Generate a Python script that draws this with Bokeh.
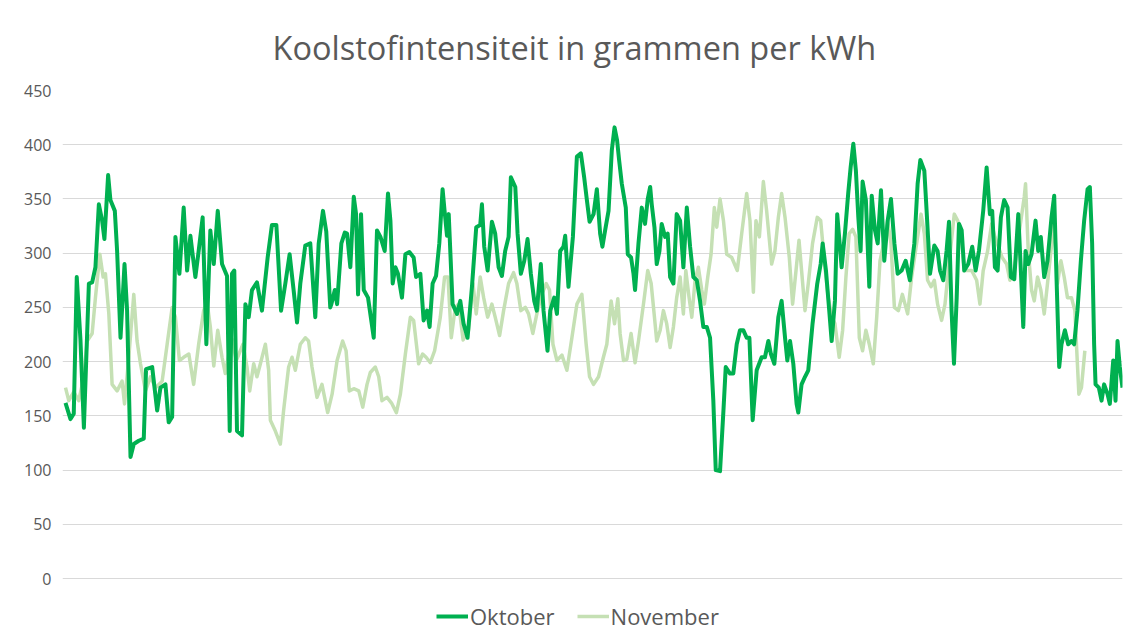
from bokeh.plotting import figure
from bokeh.models import Range1d, Legend, LegendItem
from bokeh.embed import file_html
from bokeh.resources import INLINE

# Uur van de maand (x) en koolstofintensiteit in g/kWh (y)
okt_uur = [2.1, 5.6, 7.9, 10.0, 12.6, 15.0, 18.5, 20.8, 23.1, 25.5, 27.8, 29.4, 32.0, 33.6, 36.7, 38.3,
           40.7, 43.5, 45.3, 47.7, 50.0, 53.5, 57.0, 58.6, 62.9, 66.4, 68.7, 72.2, 74.5, 76.9, 79.2, 82.0,
           85.0, 87.4, 89.7, 93.2, 95.5, 98.3, 100.9, 103.7, 106.1, 108.9, 111.9, 115.4, 117.3, 118.9,
           120.5, 122.4, 125.9, 128.3, 130.6, 132.9, 136.4, 139.9, 143.9, 146.9, 150.0, 153.3, 156.3,
           159.3, 162.1, 164.5, 166.8, 170.3, 173.8, 177.3, 179.7, 182.7, 185.0, 187.8, 188.6, 191.0,
           192.6, 195.6, 198.0, 199.6, 201.9, 204.3, 205.9, 207.3, 209.4, 211.3, 214.3, 218.3, 220.6,
           223.0, 226.0, 228.3, 230.0, 231.6, 233.5, 235.3, 238.1, 240.5, 243.3, 246.3, 248.0, 251.0,
           253.3, 255.7, 257.5, 259.6, 262.0, 264.3, 266.6, 268.0, 269.7, 270.9, 273.6, 276.7, 279.0,
           281.3, 284.1, 287.2, 290.2, 293.0, 294.2, 295.8, 298.2, 301.2, 303.5, 305.9, 308.2, 310.5,
           312.9, 314.5, 317.6, 319.2, 321.5, 323.9, 326.2, 328.5, 330.9, 332.7, 335.5, 337.4, 340.2,
           342.1, 344.9, 346.8, 349.1, 351.4, 352.6, 354.9, 358.0, 360.8, 363.6, 365.9, 367.8, 369.7,
           372.5, 374.8, 377.1, 378.7, 380.6, 383.0, 385.3, 387.2, 389.0, 390.4, 392.3, 395.1, 396.5,
           398.8, 400.5, 401.6, 404.0, 406.3, 408.6, 410.5, 412.2, 413.3, 415.2, 416.8, 418.7, 420.3,
           422.7, 424.5, 426.2, 428.5, 430.8, 433.2, 435.5, 437.9, 440.2, 442.5, 444.9, 447.2, 449.5,
           451.9, 454.2, 456.5, 458.2, 461.2, 463.6, 465.2, 468.2, 470.5, 472.9, 475.2, 477.5, 479.9,
           481.8, 484.1, 486.9, 490.4, 492.7, 495.1, 496.9, 499.3, 502.1, 504.4, 506.8, 508.4, 510.3,
           512.6, 514.9, 516.1, 518.4, 520.8, 523.1, 526.1, 529.4, 531.8, 533.2, 535.5, 537.8, 539.5,
           541.8, 543.4, 546.5, 548.8, 551.1, 552.8, 554.7, 556.5, 558.2, 559.8, 561.2, 563.5, 565.9,
           567.6, 569.9, 571.8, 574.1, 576.4, 578.8, 581.1, 583.5, 585.8, 588.6, 591.4, 594.4, 597.5,
           599.8, 601.7, 604.5, 606.1, 608.5, 611.5, 613.8, 615.5, 617.8, 620.1, 621.8, 623.6, 625.3,
           627.2, 628.8, 630.7, 632.5, 635.3, 638.1, 640.5, 642.8, 645.8, 648.2, 650.5, 652.1, 654.0,
           655.9, 658.2, 660.5, 662.9, 665.2, 667.6, 670.4, 672.2, 673.9, 675.5, 677.4, 679.7, 682.5,
           684.4, 686.2, 688.6, 690.9, 693.7, 695.6, 697.2, 699.1, 700.7, 703.1, 705.4, 707.7, 709.6,
           711.9, 714.3, 716.6, 719.0, 720.6, 722.2, 723.6, 724.6, 726.9, 728.8, 730.6, 733.0, 734.6,
           737.0, 738.6, 740.0, 741.6, 743.5]
okt_waarde = [162, 147, 152, 278, 220, 139, 272, 273, 287, 345, 330, 313, 372, 349, 339, 302,
              222, 290, 247, 112, 124, 127, 129, 193, 195, 155, 176, 179, 144, 149, 315, 281,
              342, 284, 316, 278, 302, 333, 216, 321, 290, 339, 290, 279, 136, 281,
              284, 136, 132, 253, 241, 266, 273, 247, 296, 326, 326, 247, 272,
              299, 266, 236, 272, 307, 309, 241, 309, 339, 320, 250, 253, 266,
              253, 309, 319, 318, 287, 352, 336, 262, 336, 266, 259, 222, 321,
              315, 302, 355, 330, 272, 287, 281, 259, 299, 301, 296, 278, 281,
              238, 247, 232, 272, 279, 309, 359, 339, 316, 336, 253, 244, 256,
              235, 222, 269, 324, 326, 345, 306, 284, 329, 318, 287, 279, 302,
              315, 370, 361, 318, 281, 293, 313, 281, 256, 247, 290, 247, 210,
              247, 259, 244, 302, 306, 316, 269, 315, 389, 392, 370, 349, 329,
              336, 359, 318, 306, 321, 339, 395, 416, 404, 386, 364, 342, 299,
              296, 281, 266, 309, 342, 327, 350, 361, 345, 324, 290, 302, 327,
              315, 318, 278, 272, 336, 330, 287, 342, 306, 278, 275, 256, 232,
              232, 222, 164, 100, 99, 155, 195, 189, 189, 216, 229, 229, 222,
              222, 146, 192, 204, 204, 219, 207, 198, 241, 256, 222, 201, 219,
              198, 161, 153, 179, 186, 192, 235, 272, 290, 309, 284, 247, 219,
              256, 336, 287, 318, 355, 379, 401, 376, 333, 302, 366, 349, 269,
              353, 321, 309, 358, 293, 330, 350, 309, 281, 284, 293, 275, 309,
              364, 386, 376, 339, 281, 307, 302, 284, 275, 302, 329, 247, 198,
              259, 327, 321, 284, 290, 306, 284, 302, 339, 379, 336, 339, 287,
              284, 333, 349, 342, 278, 276, 336, 284, 232, 302, 290, 299, 330,
              302, 315, 278, 293, 333, 353, 278, 195, 216, 229, 216, 219, 216,
              247, 293, 330, 359, 361, 309, 216, 179, 176, 164, 179, 170, 161,
              201, 164, 219, 195, 176]

nov_uur = [2.1, 4.4, 7.9, 11.4, 15.0, 17.3, 20.8, 23.1, 26.2, 28.5, 30.1, 32.5, 34.8, 38.3, 41.8,
           43.5, 46.5, 50.0, 52.3, 54.7, 58.2, 61.7, 65.2, 69.9, 73.4, 76.9, 79.2, 82.0, 85.0, 88.6,
           92.0, 95.5, 99.0, 101.4, 103.7, 106.1, 108.9, 111.9, 114.2, 116.6, 118.9, 121.9, 126.6,
           129.4, 131.3, 134.1, 136.4, 138.8, 142.3, 144.6, 145.8, 149.3, 152.8, 155.1, 158.6, 161.0,
           163.3, 166.8, 170.3, 172.6, 175.0, 178.5, 182.0, 186.0, 189.1, 192.6, 196.5, 198.9, 201.2,
           204.3, 207.8, 210.6, 213.6, 215.9, 219.4, 221.8, 224.1, 227.6, 230.7, 234.2, 237.0, 240.5,
           244.0, 246.3, 249.8, 252.6, 255.0, 258.0, 261.0, 265.0, 268.0, 270.4, 272.7, 275.5, 277.9,
           281.0, 284.8, 287.9, 290.2, 293.0, 295.4, 298.2, 301.2, 303.5, 306.6, 309.4, 312.9, 316.4,
           318.7, 321.5, 324.6, 326.9, 329.9, 332.7, 336.2, 339.3, 341.6, 344.0, 346.8, 350.3, 353.8,
           357.3, 360.8, 364.3, 367.3, 369.7, 372.5, 376.0, 379.4, 381.8, 384.8, 387.2, 389.5, 391.1,
           393.5, 395.8, 398.8, 401.6, 404.0, 407.5, 410.5, 412.9, 415.2, 416.8, 419.2, 421.5, 423.8,
           426.2, 428.5, 430.8, 433.2, 435.5, 437.2, 439.5, 441.4, 443.7, 446.0, 448.4, 450.2, 452.6,
           454.9, 457.2, 458.9, 461.2, 463.6, 465.9, 469.4, 473.3, 476.4, 479.9, 482.2, 484.6, 486.4,
           488.8, 491.6, 493.9, 497.4, 499.7, 502.1, 504.4, 506.8, 509.8, 512.1, 514.5, 516.6, 518.4,
           520.8, 523.1, 526.1, 529.4, 531.8, 534.8, 537.1, 539.5, 541.8, 544.8, 547.2, 549.5, 551.8,
           554.2, 556.5, 558.9, 561.2, 563.5, 565.9, 568.7, 571.1, 573.4, 576.5, 578.8, 581.1, 583.5,
           586.3, 589.1, 592.8, 595.6, 599.1, 602.2, 604.5, 606.8, 609.2, 611.5, 613.8, 616.6, 619.0,
           622.5, 625.5, 627.9, 630.2, 632.5, 635.3, 637.7, 641.2, 643.5, 645.8, 648.9, 651.7, 654.0,
           657.5, 659.1, 662.2, 664.5, 667.6, 669.9, 672.2, 674.6, 675.5, 677.4, 679.7, 681.6, 683.9,
           686.2, 688.6, 690.9, 693.3, 695.6, 697.9, 700.3, 702.6, 704.9, 707.7, 710.1, 711.2, 712.9,
           714.7, 717.1]
nov_waarde = [176, 164, 172, 164, 186, 219, 226, 259, 299, 278, 281, 244, 179, 173, 182,
              161, 204, 262, 219, 198, 173, 186, 176, 182, 216, 250, 241, 201, 204, 207,
              179, 216, 247, 255, 232, 196, 229, 204, 189, 207, 221, 201, 216,
              195, 173, 198, 186, 198, 216, 192, 146, 136, 124, 155, 195, 204,
              192, 216, 222, 219, 195, 167, 179, 153, 170, 201, 219, 210, 173,
              175, 173, 158, 179, 190, 195, 186, 164, 167, 162, 153, 170, 207,
              241, 238, 198, 207, 204, 199, 210, 241, 278, 278, 222, 250, 253,
              220, 229, 272, 244, 278, 259, 241, 253, 241, 224, 247, 272, 282,
              272, 247, 250, 244, 226, 244, 262, 272, 266, 216, 201, 206, 192,
              222, 253, 262, 216, 186, 179, 186, 204, 216, 256, 235, 258, 226,
              201, 202, 226, 199, 219, 253, 284, 272, 241, 219, 229, 247, 235,
              213, 232, 259, 278, 244, 284, 259, 241, 275, 287, 266, 253, 278,
              299, 342, 324, 350, 330, 299, 296, 284, 318, 355, 330, 264, 330,
              315, 366, 339, 290, 302, 333, 355, 333, 296, 253, 284, 312, 284,
              247, 272, 309, 333, 330, 287, 259, 241, 235, 204, 229, 278, 318,
              322, 315, 222, 210, 229, 216, 198, 241, 293, 312, 330, 309, 250,
              247, 262, 244, 278, 309, 336, 318, 275, 269, 275, 253, 238, 253,
              299, 336, 330, 321, 284, 284, 284, 275, 253, 284, 302, 327, 315,
              302, 296, 290, 275, 284, 309, 330, 352, 364, 302, 266, 256, 278,
              266, 244, 272, 302, 330, 272, 293, 278, 259, 259, 247, 216, 170,
              176, 210]

y_ticks = [0, 50, 100, 150, 200, 250, 300, 350, 400, 450]

TEXT = "#595959"
FONT = "Open Sans"

# plot area: 450 at 90 px, 0 at 578 px; the frame extends to the bottom edge so the
# legend (drawn inside the frame) sits below the 0 gridline
TOP_PX, ZERO_PX, H = 90, 578, 641
px_per_unit = (ZERO_PX - TOP_PX) / (y_ticks[-1] - y_ticks[0])
y_bottom = y_ticks[0] - (H - ZERO_PX) / px_per_unit

p = figure(width=1128, height=H, output_backend="svg", toolbar_location=None,
           x_axis_type=None, x_range=Range1d(0, 743.5), y_range=Range1d(y_bottom, y_ticks[-1]),
           min_border_left=62, min_border_right=6, min_border_top=TOP_PX, min_border_bottom=0)

p.outline_line_color = None
p.background_fill_color = "white"
p.border_fill_color = "white"

r2 = p.line(nov_uur, nov_waarde, line_color="#C5E0B4", line_width=3.5, line_join="round")
r1 = p.line(okt_uur, okt_waarde, line_color="#00B050", line_width=4, line_join="round")

p.yaxis.ticker = y_ticks
p.yaxis.axis_line_color = None
p.yaxis.major_tick_line_color = None
p.yaxis.minor_tick_line_color = None
p.yaxis.major_label_text_font = FONT
p.yaxis.major_label_text_font_size = "16px"
p.yaxis.major_label_text_color = TEXT
p.yaxis.major_label_standoff = 5
p.ygrid.grid_line_color = "#D9D9D9"
p.ygrid.grid_line_width = 1
p.xgrid.grid_line_color = None

p.title.text = "Koolstofintensiteit in grammen per kWh"
p.title.text_font = FONT
p.title.text_font_style = "normal"
p.title.text_font_size = "32.5px"
p.title.text_color = TEXT
p.title.align = "left"
p.title.offset = 210
p.title.standoff = 42

legend = Legend(items=[LegendItem(label="Oktober", renderers=[r1]),
                       LegendItem(label="November", renderers=[r2])],
                orientation="horizontal", location=(374, 10))
legend.border_line_color = None
legend.background_fill_alpha = 0
legend.label_text_font = FONT
legend.label_text_font_size = "22px"
legend.label_text_color = TEXT
legend.glyph_width = 32
legend.label_standoff = 2
legend.spacing = 22
legend.padding = 0
legend.margin = 0
p.add_layout(legend)

open("out.html", "w").write(file_html(p, INLINE))
